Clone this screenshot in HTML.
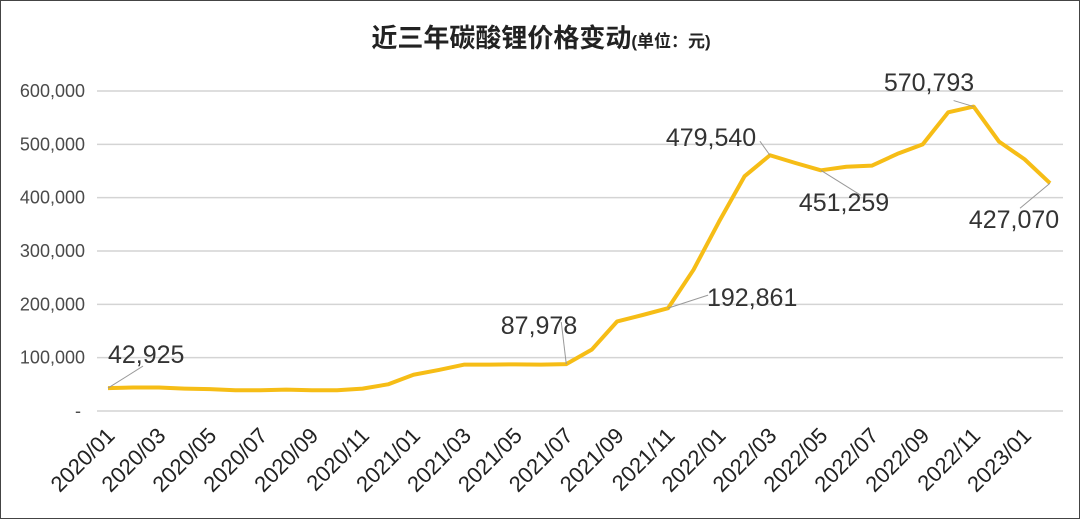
<!DOCTYPE html>
<html><head><meta charset="utf-8"><style>
html,body{margin:0;padding:0;background:#fff}
#wrap{width:1078px;height:517px;border:1px solid #444;position:relative;overflow:hidden}
svg{position:absolute;left:0;top:0}
</style></head><body>
<div id="wrap">
<svg id="chart" width="1080" height="519">
<text x="540" y="46" text-anchor="middle" font-family="Liberation Sans, 'Noto Sans CJK SC', sans-serif" font-size="26" font-weight="bold" fill="#222">近三年碳酸锂价格变动<tspan font-size="17">(单位：元)</tspan></text>
</svg>
</div>
<script>
const categories=["2020/01","2020/02","2020/03","2020/04","2020/05","2020/06","2020/07","2020/08","2020/09","2020/10","2020/11","2020/12","2021/01","2021/02","2021/03","2021/04","2021/05","2021/06","2021/07","2021/08","2021/09","2021/10","2021/11","2021/12","2022/01","2022/02","2022/03","2022/04","2022/05","2022/06","2022/07","2022/08","2022/09","2022/10","2022/11","2022/12","2023/01","2023/02"];
const prices=[42925,44000,44000,42000,41000,39000,39000,40000,39000,39000,42000,50000,68000,77000,87000,87000,87500,87000,87978,115000,168000,180000,192861,265000,355000,440000,479540,465000,451259,458000,460000,482000,500000,560000,570793,505000,472000,427070];
const yTicks=[0,100000,200000,300000,400000,500000,600000];
const yTickLabels=["-","100,000","200,000","300,000","400,000","500,000","600,000"];
const annotated=[0,18,22,26,28,34,37];
const NS="http://www.w3.org/2000/svg";
const svg=document.getElementById('chart');
const x0=107,x1=1049,yBase=410,yTop=90,yMax=600000;
const xs=i=>x0+i*(x1-x0)/(categories.length-1);
const ys=v=>yBase-v/yMax*(yBase-yTop);
function mk(t,a){const e=document.createElementNS(NS,t);for(const k in a)e.setAttribute(k,a[k]);svg.appendChild(e);return e;}
const F="Liberation Sans, sans-serif";
yTicks.forEach((v,i)=>{
 const g=mk('line',{x1:96,x2:1062,y1:ys(v),y2:ys(v),stroke:'#d4d4d4','stroke-width':1.5});
 
 
 const t=mk('text',{x:i==0?80:84,y:ys(v)+6,'text-anchor':'end','font-family':F,'font-size':18,fill:'#4a4a4a'});
 t.textContent=yTickLabels[i];
 
 
});
categories.forEach((c,i)=>{
 if(i%2)return;
 const x=xs(i)+8,y=436;
 const t=mk('text',{x:x,y:y,'text-anchor':'end','font-family':F,'font-size':22,fill:'#222',transform:`rotate(-45 ${x} ${y})`});
 t.textContent=c;
 
 
});
const p=mk('polyline',{points:prices.map((v,i)=>xs(i)+','+ys(v)).join(' '),fill:'none',stroke:'#f6bd16','stroke-width':4,'stroke-linejoin':'round'});


const offs={0:[35,-22],18:[-5,-42],22:[40,-13],26:[-10,-14],28:[40,25],34:[-20,-6],37:[-30,25]};
const labs={0:[107,362,'start'],18:[538,333,'middle'],22:[706,305,'start'],26:[710,145,'middle'],28:[843,210,'middle'],34:[928,90,'middle'],37:[1013,227,'middle']};
annotated.forEach(i=>{
 const x=xs(i),y=ys(prices[i]),o=offs[i];
 const l=mk('line',{x1:x,y1:y,x2:x+o[0],y2:y+o[1],stroke:'#999','stroke-width':1});
 
 
 const lab=labs[i];
 const t=mk('text',{x:lab[0],y:lab[1],'text-anchor':lab[2],'font-family':F,'font-size':25,fill:'#333'});
 t.textContent=prices[i].toLocaleString('en-US');
 
 
});
</script>
</body></html>
